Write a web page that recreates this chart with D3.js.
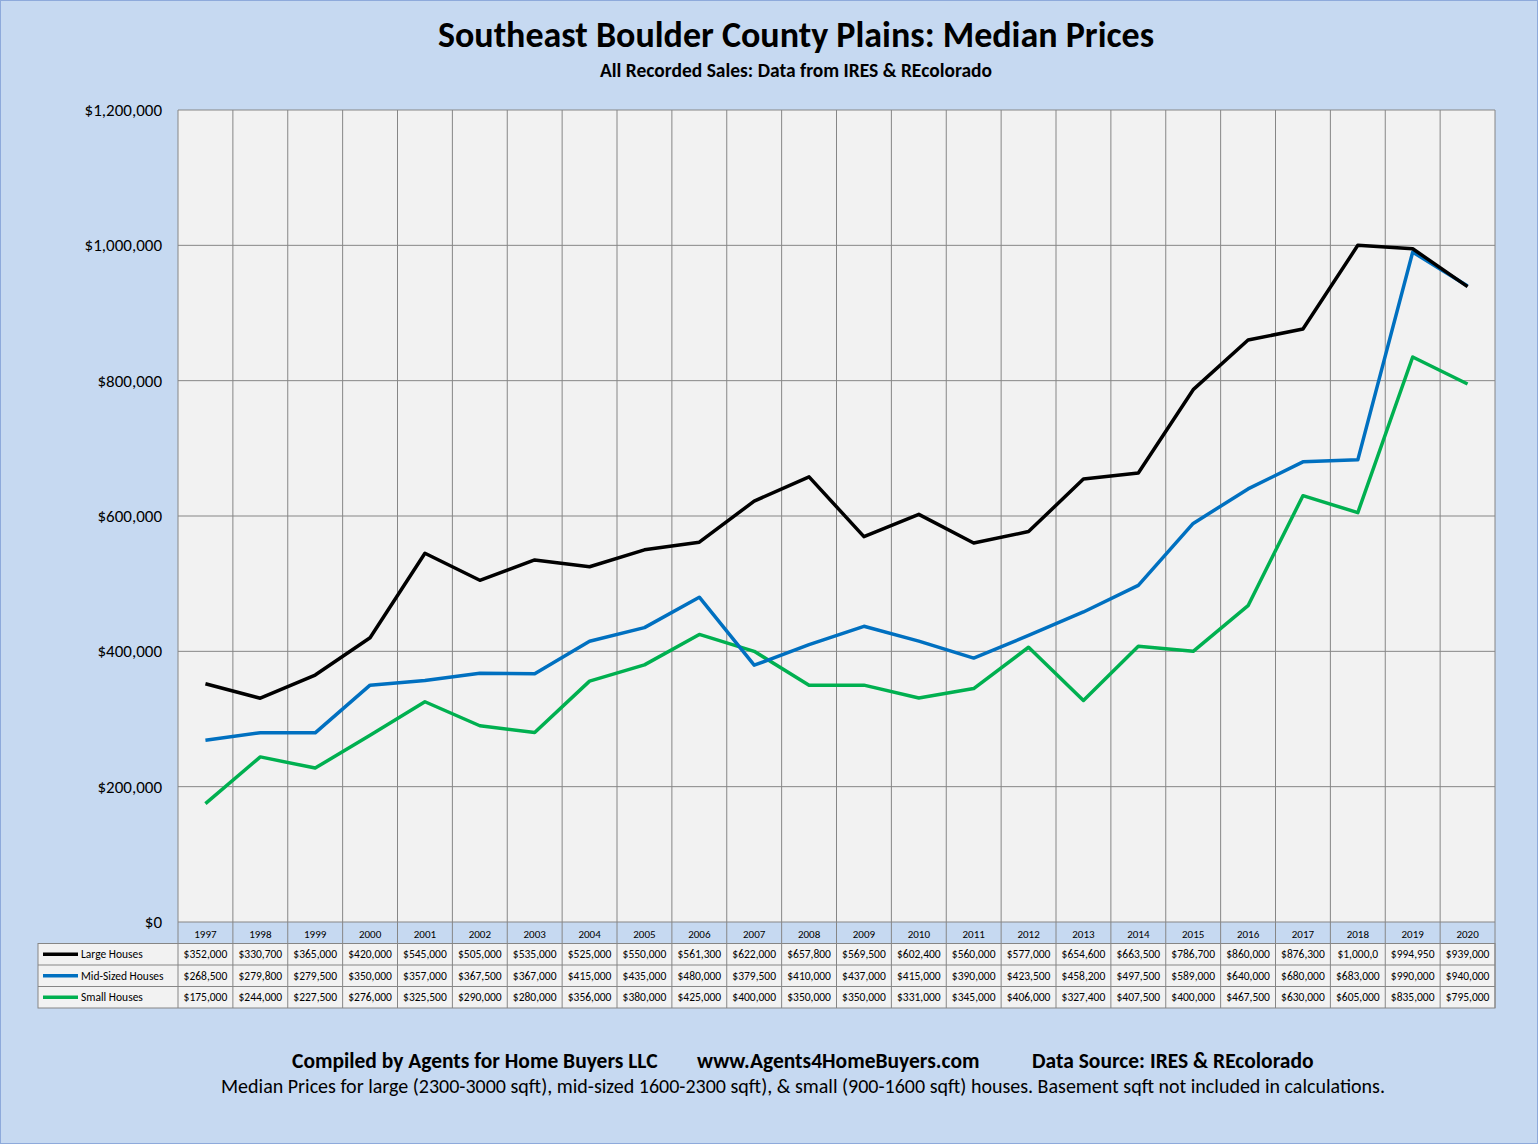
<!DOCTYPE html>
<html><head><meta charset="utf-8">
<script src="https://cdn.jsdelivr.net/npm/d3@7"></script>
<style>body{margin:0;background:#fff}svg{display:block;font-family:Calibri,Carlito,"Open Sans",sans-serif}</style>
</head><body><svg id="c" width="1538" height="1144"></svg>
<script>
const years = ['1997','1998','1999','2000','2001','2002','2003','2004','2005','2006','2007','2008','2009','2010','2011','2012','2013','2014','2015','2016','2017','2018','2019','2020']
const large = [352000,330700,365000,420000,545000,505000,535000,525000,550000,561300,622000,657800,569500,602400,560000,577000,654600,663500,786700,860000,876300,1000000,994950,939000]
const mid = [268500,279800,279500,350000,357000,367500,367000,415000,435000,480000,379500,410000,437000,415000,390000,423500,458200,497500,589000,640000,680000,683000,990000,940000]
const small = [175000,244000,227500,276000,325500,290000,280000,356000,380000,425000,400000,350000,350000,331000,345000,406000,327400,407500,400000,467500,630000,605000,835000,795000]
const yTicks = [0,200000,400000,600000,800000,1000000,1200000]
const series = [
  {name:'Large Houses', values:large, color:'#000000'},
  {name:'Mid-Sized Houses', values:mid, color:'#0070c0'},
  {name:'Small Houses', values:small, color:'#00b050'}
]

const svg = d3.select('#c')
svg.append('rect').attr('x',0.5).attr('y',0.5).attr('width',1537).attr('height',1143)
  .attr('fill','#c6d9f1').attr('stroke','#8eaadb')

const L = 178, R = 1495, T = 110, B = 922
const x = d3.scaleBand().domain(years).range([L, R])
const y = d3.scaleLinear().domain([0, 1200000]).range([B, T])

svg.append('rect').attr('x',L).attr('y',T).attr('width',R-L).attr('height',B-T).attr('fill','#f2f2f2')

// horizontal grid
svg.selectAll('.hg').data(yTicks).enter().append('line')
  .attr('x1',L).attr('x2',R).attr('y1',d=>y(d)).attr('y2',d=>y(d))
  .attr('stroke','#868686').attr('stroke-width',1)
// vertical grid (category boundaries)
svg.selectAll('.vg').data(years.concat(['end'])).enter().append('line')
  .attr('x1',(d,i)=>L+i*x.bandwidth()).attr('x2',(d,i)=>L+i*x.bandwidth())
  .attr('y1',T).attr('y2',B).attr('stroke','#868686').attr('stroke-width',1)

svg.append('g').selectAll('text').data(yTicks).enter().append('text')
  .attr('x',L-16).attr('y',d=>y(d)+6).attr('text-anchor','end')
  .attr('font-size',17).attr('fill','#000')
  .text(d=>'$'+d3.format(',')(d))

const line = d3.line().x((d,i)=>x(years[i])+x.bandwidth()/2).y(d=>y(d))
series.slice().reverse().forEach(s=>{
  svg.append('path').attr('d',line(s.values)).attr('fill','none')
    .attr('stroke',s.color).attr('stroke-width',3.5).attr('stroke-linejoin','round')
})

// data table
const rowH = 21.5, tLeft = 38
svg.selectAll('.yr').data(years).enter().append('text')
  .attr('x',d=>x(d)+x.bandwidth()/2).attr('y',B+16).attr('text-anchor','middle')
  .attr('font-size',11).text(d=>d)
const tbTop = B + rowH
svg.append('rect').attr('x',tLeft).attr('y',tbTop).attr('width',R-tLeft).attr('height',rowH*3)
  .attr('fill','#f2f2f2').attr('stroke','#868686')
series.forEach((s,r)=>{
  const yy = tbTop + r*rowH
  svg.append('line').attr('x1',tLeft).attr('x2',R).attr('y1',yy).attr('y2',yy).attr('stroke','#868686')
  svg.append('line').attr('x1',tLeft+5).attr('x2',tLeft+40).attr('y1',yy+rowH/2).attr('y2',yy+rowH/2)
    .attr('stroke',s.color).attr('stroke-width',3.5)
  svg.append('text').attr('x',tLeft+43).attr('y',yy+rowH/2+4).attr('font-size',11.5).text(s.name)
  svg.append('g').selectAll('text').data(s.values).enter().append('text')
    .attr('x',(d,i)=>x(years[i])+x.bandwidth()/2).attr('y',yy+rowH/2+4)
    .attr('text-anchor','middle').attr('font-size',11.5)
    .text(d=>('$'+d3.format(',')(d)).slice(0,8))
})
svg.selectAll('.tv').data(years.concat(['end'])).enter().append('line')
  .attr('x1',(d,i)=>L+i*x.bandwidth()).attr('x2',(d,i)=>L+i*x.bandwidth())
  .attr('y1',B).attr('y2',tbTop+rowH*3).attr('stroke','#868686')

// titles
svg.append('text').attr('x',796).attr('y',47).attr('text-anchor','middle')
  .attr('font-size',36).attr('font-weight','bold').text('Southeast Boulder County Plains: Median Prices')
svg.append('text').attr('x',796).attr('y',77).attr('text-anchor','middle')
  .attr('font-size',19.5).attr('font-weight','bold').text('All Recorded Sales: Data from IRES & REcolorado')
const foot = svg.append('text').attr('y',1068).attr('font-size',21.5).attr('font-weight','bold')
foot.append('tspan').attr('x',292).text('Compiled by Agents for Home Buyers LLC')
foot.append('tspan').attr('x',697).text('www.Agents4HomeBuyers.com')
foot.append('tspan').attr('x',1032).text('Data Source:  IRES & REcolorado')
svg.append('text').attr('x',803).attr('y',1093).attr('text-anchor','middle').attr('font-size',20)
  .text('Median Prices for large (2300-3000 sqft), mid-sized  1600-2300 sqft), & small (900-1600 sqft) houses.   Basement sqft not included in calculations.')
</script></body></html>
